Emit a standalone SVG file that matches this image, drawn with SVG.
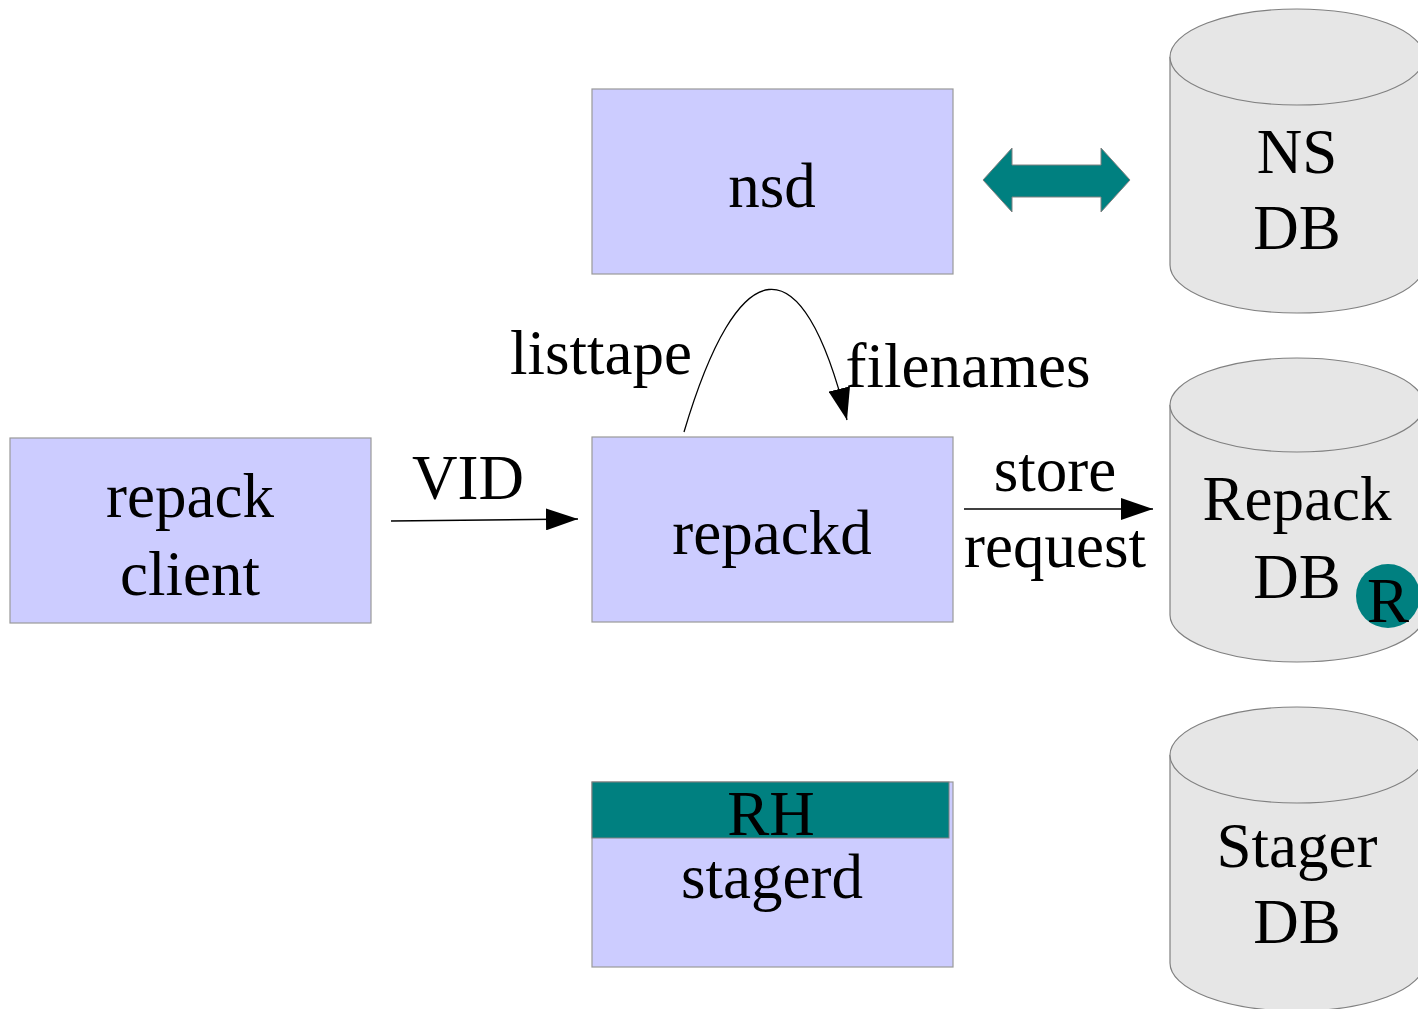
<svg xmlns="http://www.w3.org/2000/svg" width="1418" height="1009" viewBox="0 0 1418 1009">
  <style>
    .box { fill: #ccccff; stroke: #999999; stroke-width: 1.2; }
    .db { fill: #e6e6e6; stroke: #808080; stroke-width: 1.2; }
    .teal { fill: #008080; }
    .lbl { font-family: "Liberation Serif", "Times New Roman", serif; font-size: 63px; fill: #000; text-anchor: middle; }
    .wire { fill: none; stroke: #000; stroke-width: 1.3; }
  </style>
  <defs>
    <marker id="head" viewBox="0 0 32 22" refX="32" refY="11" markerWidth="32" markerHeight="22" markerUnits="userSpaceOnUse" orient="auto">
      <path d="M0,0 L32,11 L0,22 Z" fill="#000"/>
    </marker>
  </defs>

  <rect width="1418" height="1009" fill="#ffffff"/>

  <!-- processes -->
  <g id="nsd">
    <rect class="box" x="592" y="89" width="361" height="185"/>
    <text class="lbl" x="772" y="207">nsd</text>
  </g>
  <g id="repack-client">
    <rect class="box" x="10" y="438" width="361" height="185"/>
    <text class="lbl" x="190" y="517">repack</text>
    <text class="lbl" x="190" y="595">client</text>
  </g>
  <g id="repackd">
    <rect class="box" x="592" y="437" width="361" height="185"/>
    <text class="lbl" x="772" y="554">repackd</text>
  </g>
  <g id="stagerd">
    <rect class="box" x="592" y="782" width="361" height="185"/>
    <rect class="teal" x="592" y="782" width="357" height="56" stroke="#808080" stroke-width="1"/>
    <text class="lbl" x="771" y="835">RH</text>
    <text class="lbl" x="772" y="898">stagerd</text>
  </g>

  <!-- databases -->
  <g id="ns-db">
    <path class="db" d="M1170,57 L1170,265 A127,48 0 0 0 1424,265 L1424,57"/>
    <ellipse class="db" cx="1297" cy="57" rx="127" ry="48"/>
    <text class="lbl" x="1297" y="173">NS</text>
    <text class="lbl" x="1297" y="249">DB</text>
  </g>
  <g id="repack-db">
    <path class="db" d="M1170,405 L1170,615 A127,47 0 0 0 1424,615 L1424,405"/>
    <ellipse class="db" cx="1297" cy="405" rx="127" ry="47"/>
    <text class="lbl" x="1297" y="520">Repack</text>
    <text class="lbl" x="1297" y="598">DB</text>
    <circle class="teal" cx="1388" cy="596" r="32"/>
    <text class="lbl" x="1388" y="622">R</text>
  </g>
  <g id="stager-db">
    <path class="db" d="M1170,755 L1170,963 A127,48 0 0 0 1424,963 L1424,755"/>
    <ellipse class="db" cx="1297" cy="755" rx="127" ry="48"/>
    <text class="lbl" x="1297" y="867">Stager</text>
    <text class="lbl" x="1297" y="943">DB</text>
  </g>

  <!-- connectors -->
  <g id="connectors">
    <path class="teal" d="M983,180 L1012,148 L1012,165 L1101,165 L1101,148 L1130,180 L1101,212 L1101,197 L1012,197 L1012,212 Z" stroke="#808080" stroke-width="1"/>
    <path class="wire" d="M391,521 L578,519" marker-end="url(#head)"/>
    <path class="wire" d="M964,509 L1153,509" marker-end="url(#head)"/>
    <path class="wire" d="M684,432 C738,250 802,238 847,420" marker-end="url(#head)"/>
    <text class="lbl" x="468" y="499">VID</text>
    <text class="lbl" x="1055" y="491">store</text>
    <text class="lbl" x="1055" y="567">request</text>
    <text class="lbl" x="601" y="374">listtape</text>
    <text class="lbl" x="968" y="387">filenames</text>
  </g>
</svg>
